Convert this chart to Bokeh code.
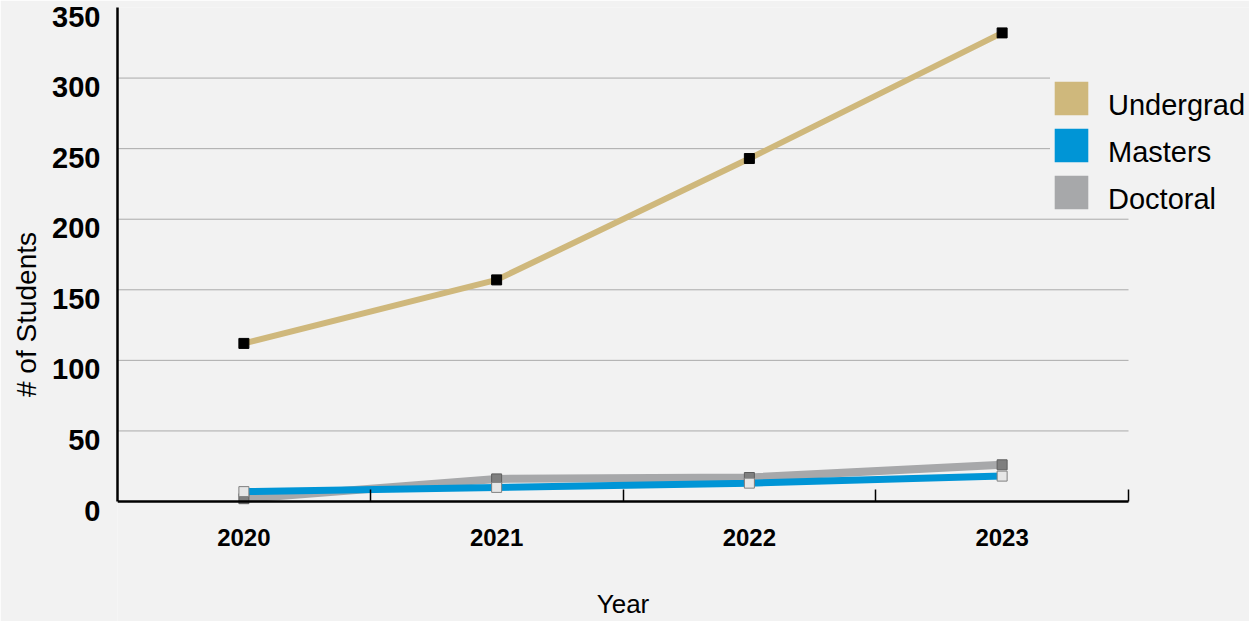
from bokeh.plotting import figure
from bokeh.models import (Range1d, FixedTicker, Legend, LegendItem, ColumnDataSource,
                          LinearAxis, Title)
from bokeh.embed import file_html
from bokeh.resources import INLINE

years = ["2020", "2021", "2022", "2023"]
undergrad = [112, 157, 243, 332]
masters = [7, 10, 13, 18]
doctoral = [2, 16, 17, 26]
y_ticks = [0, 50, 100, 150, 200, 250, 300, 350]
series = ["Undergrad", "Masters", "Doctoral"]
colors = ["#CFB87C", "#0095D6", "#A7A8AA"]

x = list(range(len(years)))
bounds = [i + 0.5 for i in x]
x_lo, x_hi = x[0] - 0.5, x[-1] + 0.5
y_lo, y_hi = y_ticks[0], y_ticks[-1]

BG = "#F2F2F2"
FONT = "Liberation Sans"

W, H = 1249, 621
LEFT, TOP = 117, 7
ZERO_PX = 501          # pixel row of the value axis' zero line
LABEL_DROP = 9         # value tick labels sit slightly below their grid lines

# the frame spans to the right and bottom edges so that the legend and the
# pinned category axis (both drawn inside it) are not clipped
FRAME_W = W - LEFT
UNIT_PX = 1011 / len(years)
x_end = x_lo + FRAME_W / UNIT_PX
K = (ZERO_PX - TOP) / (y_hi - y_lo)   # px per unit
y_start = y_lo - (H - ZERO_PX) / K

p = figure(width=W, height=H, output_backend="svg", toolbar_location=None,
           x_range=Range1d(x_lo, x_end), y_range=Range1d(y_start, y_hi),
           min_border_left=LEFT, min_border_right=0, min_border_top=TOP,
           min_border_bottom=0,
           background_fill_color=BG, border_fill_color=BG, outline_line_color=None)

src = ColumnDataSource(dict(x=x, u=undergrad, m=masters, d=doctoral))

# horizontal grid lines, limited to the category span
grid_y = y_ticks[1:-1]
p.segment(x0=[x_lo] * len(grid_y), x1=[x_hi] * len(grid_y), y0=grid_y, y1=grid_y,
          line_color="#AAAAAA", line_width=1)

p.line("x", "d", source=src, line_color=colors[2], line_width=8)
p.line("x", "m", source=src, line_color=colors[1], line_width=7)
p.scatter("x", "d", source=src, marker="square", size=10, fill_color="#7F7F7F", line_color="#5E5E5E", line_width=1)
p.scatter("x", "m", source=src, marker="square", size=10, fill_color="#E6E6E6", line_color="#808080", line_width=1)
p.line("x", "u", source=src, line_color=colors[0], line_width=6)
p.scatter("x", "u", source=src, marker="square", size=10, fill_color="#000000", line_color="#000000")

# legend swatch renderers (zero-size, only used for the legend)
swatches = []
ghosts = []
for col, c in zip(["u", "m", "d"], colors):
    swatches.append(p.quad(left="x", right="x", top=col, bottom=col, source=src,
                           fill_color=c, line_color=None))
    ghosts.append(p.quad(left="x", right="x", top=col, bottom=col, source=src,
                         fill_color=c, fill_alpha=0, line_color=None))

frame_bottom = H
common = dict(orientation="vertical", glyph_width=42, glyph_height=42, spacing=5,
              padding=0, margin=0, label_standoff=16, label_text_font=FONT,
              label_text_font_size="29px", label_text_color="#000000",
              border_line_color=None)

# swatches (with the background that hides grid lines behind the legend)
legend_sw = Legend(items=[LegendItem(label=" ", renderers=[r]) for r in swatches],
                   location=(1050 - LEFT, frame_bottom - 213), label_width=140,
                   background_fill_color=BG, background_fill_alpha=1.0, **common)
# labels, a few pixels lower than the swatch centres as in the reference
legend_tx = Legend(items=[LegendItem(label=s_, renderers=[r]) for s_, r in zip(series, ghosts)],
                   location=(1050 - LEFT, frame_bottom - 220),
                   background_fill_alpha=0.0, **common)
p.add_layout(legend_sw)
p.add_layout(legend_tx)

# x axis, pinned to the zero line
xa = p.xaxis[0]
xa.fixed_location = y_lo
xa.bounds = (x_lo, x_hi)
xa.ticker = FixedTicker(ticks=x, minor_ticks=bounds)
xa.major_label_overrides = {i: yr for i, yr in enumerate(years)}
xa.major_tick_in = 0
xa.major_tick_out = 0
xa.minor_tick_in = 12
xa.minor_tick_out = 0
xa.minor_tick_line_color = "#000000"
xa.minor_tick_line_width = 1.5
xa.axis_line_color = "#000000"
xa.axis_line_width = 2.5
xa.major_label_text_font = FONT
xa.major_label_text_font_style = "bold"
xa.major_label_text_font_size = "24px"
xa.major_label_text_color = "#000000"
xa.major_label_standoff = 27
xa.axis_label = "Year"
xa.axis_label_text_font = FONT
xa.axis_label_text_font_style = "normal"
xa.axis_label_text_font_size = "26px"
xa.axis_label_text_color = "#000000"
xa.axis_label_standoff = 40

# main y axis: only the line
ya = p.yaxis[0]
ya.bounds = (y_lo, y_hi)
ya.ticker = FixedTicker(ticks=y_ticks)
ya.major_tick_in = 0
ya.major_tick_out = 0
ya.minor_tick_line_color = None
ya.axis_line_color = "#000000"
ya.axis_line_width = 2.5
ya.major_label_overrides = {t: "" for t in y_ticks}
ya.major_label_standoff = 0

# label axis: tick labels sit slightly below their grid lines, as in the reference
s = LABEL_DROP / K
p.extra_y_ranges = {"lab": Range1d(y_start + s, y_hi + s)}
lab = LinearAxis(y_range_name="lab", ticker=FixedTicker(ticks=y_ticks))
lab.axis_line_color = None
lab.major_tick_in = 0
lab.major_tick_out = 0
lab.minor_tick_line_color = None
lab.major_label_text_font = FONT
lab.major_label_text_font_style = "bold"
lab.major_label_text_font_size = "29px"
lab.major_label_text_color = "#000000"
lab.major_label_standoff = 17
p.add_layout(lab, "left")

# value-axis title, centred on the 0..350 span (not on the whole frame)
frame_mid = (TOP + H) / 2
span_mid = (TOP + ZERO_PX) / 2
ytitle = Title(text="# of Students", align="center", offset=frame_mid - span_mid,
               text_font=FONT, text_font_style="normal", text_font_size="28px",
               text_color="#000000", standoff=16)
p.add_layout(ytitle, "left")

p.xgrid.visible = False
p.ygrid.visible = False

open("out.html", "w").write(file_html(p, INLINE))
